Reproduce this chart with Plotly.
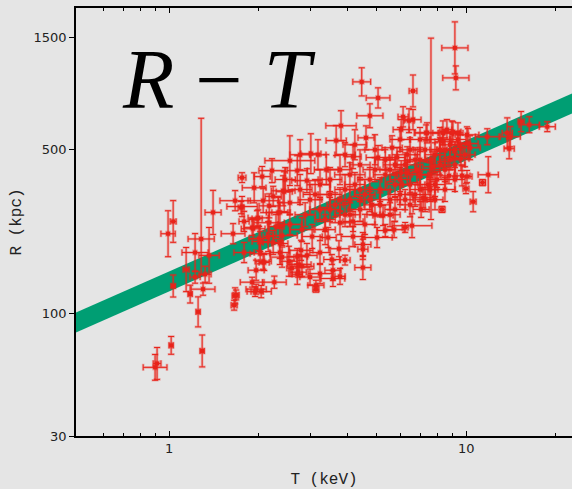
import numpy as np
import plotly.graph_objects as go

# ---- data -----------------------------------------------------------------
# temperature T (keV), radius R (kpc); errors given as half-widths in dex
T = [0.911, 0.897, 1.016, 1.032, 0.992, 1.032, 1.223, 1.363, 1.406, 1.141,
     1.223, 1.322, 1.301, 1.177, 1.252, 1.292, 1.760, 1.668, 1.747, 1.788,
     1.642, 1.668, 1.655, 2.057, 2.22, 2.70, 2.44, 2.24, 1.933, 2.073,
     2.33, 1.760, 2.172, 1.994, 1.918, 2.172, 2.29, 2.009, 2.155, 2.40,
     2.025, 2.073, 2.36, 2.40, 2.53, 2.59, 2.78, 2.74, 2.91, 2.70,
     3.22, 2.98, 3.12, 3.56, 3.56, 3.76, 4.49, 3.91, 1.903, 2.26,
     2.041, 1.681, 1.948, 3.12, 2.55, 2.76, 3.00, 3.17, 2.42, 2.91,
     3.38, 4.16, 5.05, 5.85, 6.33, 6.04, 4.45, 5.05, 4.74, 6.13,
     6.04, 3.79, 4.60, 3.65, 5.63, 9.16, 9.23, 6.62, 6.42, 7.33,
     8.61, 8.95, 9.38, 10.06, 11.77, 13.74, 14.06, 13.95, 15.3, 16.3,
     18.74, 11.86, 11.35, 10.55, 9.98, 10.06, 8.29, 7.16, 7.05, 6.57,
     6.23, 7.55, 8.75, 9.68, 9.60, 10.14, 9.02, 8.35, 7.38, 8.35,
     9.38, 6.62, 7.73, 6.83, 6.33, 7.97, 5.72, 5.34, 5.01, 4.49,
     4.49, 3.73, 2.80, 2.72, 2.70, 3.22, 3.53, 1.963, 1.963, 2.089,
     2.36, 2.24, 2.025, 1.788, 1.903, 1.978, 2.36, 2.55, 2.80, 3.03,
     3.35, 3.43, 4.16, 5.25, 3.76, 4.16, 2.98, 3.22, 3.48, 3.62,
     3.91, 4.06, 4.22, 4.39, 4.56, 4.74, 4.82, 5.13, 5.34, 5.54,
     5.76, 5.99, 6.23, 6.47, 6.73, 6.99, 7.27, 7.44, 7.85, 8.16,
     8.48, 8.82, 9.16, 9.53, 3.76, 4.06, 4.39, 4.93, 5.34, 3.22,
     3.48, 3.10, 3.35, 3.91, 4.56, 4.93, 5.76, 6.23, 6.73, 7.85,
     8.48, 5.76, 4.93, 4.22, 3.91, 2.76, 2.87, 2.55, 2.46, 5.54,
     5.99, 6.47, 6.99, 7.55, 8.16, 8.82, 9.16, 9.90, 10.3, 5.13,
     5.54, 6.47, 6.99, 4.39, 4.74, 4.06, 3.76, 3.48, 7.27, 7.85,
     8.48, 9.16, 5.99, 6.99, 8.16]

R = [61.2, 58.9, 73.1, 131, 219, 247, 182, 177, 270, 154,
     143, 147, 127, 121, 101.6, 69.2, 380, 303, 283, 247,
     219, 119, 108.5, 384, 407, 407, 331, 316, 344, 303,
     270, 286, 288, 256, 230, 244, 235, 209, 213, 215,
     180, 167, 199, 174, 167, 156, 186, 162, 177, 147,
     148, 143, 132, 141, 153, 144, 157, 169, 136, 136,
     124, 120, 124, 127, 449, 476, 481, 476, 334, 369,
     411, 467, 463, 463, 476, 399, 974, 832, 698, 691,
     609, 633, 562, 547, 510, 1360, 1013, 891, 665, 590,
     609, 590, 590, 579, 568, 590, 568, 505, 659, 639,
     627, 391, 362, 300, 341, 384, 278, 312, 278, 237,
     233, 338, 387, 387, 458, 531, 596, 590, 590, 541,
     553, 672, 423, 411, 399, 373, 228, 226, 211, 197,
     188, 189, 159, 150, 175, 182, 170, 127, 153, 165,
     182, 201, 203, 182, 233, 254, 270, 297, 228, 213,
     228, 211, 213, 262, 244, 247, 306, 278, 322, 291,
     338, 306, 355, 278, 322, 373, 291, 338, 391, 306,
     355, 322, 431, 355, 453, 391, 500, 355, 476, 431,
     500, 453, 500, 525, 411, 391, 431, 411, 453, 355,
     373, 322, 252, 264, 240, 264, 278, 306, 322, 306,
     338, 431, 500, 525, 476, 338, 264, 240, 373, 411,
     373, 500, 453, 391, 500, 525, 431, 476, 510, 291,
     264, 291, 338, 338, 306, 264, 306, 278, 306, 355,
     411, 373, 553, 553, 553]

T_err = [0.013, 0.040, 0.007, 0.007, 0.024, 0.010, 0.044, 0.034, 0.027, 0.010,
         0.017, 0.020, 0.040, 0.007, 0.007, 0.007, 0.013, 0.051, 0.010, 0.017,
         0.040, 0.010, 0.010, 0.027, 0.044, 0.034, 0.027, 0.027, 0.040, 0.051,
         0.040, 0.051, 0.034, 0.034, 0.040, 0.051, 0.027, 0.034, 0.017, 0.051,
         0.034, 0.027, 0.027, 0.040, 0.027, 0.017, 0.040, 0.040, 0.034, 0.017,
         0.040, 0.034, 0.027, 0.040, 0.027, 0.017, 0.027, 0.017, 0.040, 0.040,
         0.034, 0.010, 0.027, 0.010, 0.084, 0.034, 0.034, 0.027, 0.040, 0.051,
         0.040, 0.027, 0.040, 0.027, 0.034, 0.027, 0.030, 0.040, 0.044, 0.017,
         0.027, 0.051, 0.027, 0.034, 0.034, 0.044, 0.044, 0.013, 0.017, 0.040,
         0.017, 0.027, 0.017, 0.040, 0.040, 0.017, 0.034, 0.017, 0.010, 0.034,
         0.027, 0.034, 0.010, 0.010, 0.010, 0.017, 0.010, 0.034, 0.027, 0.067,
         0.010, 0.027, 0.027, 0.027, 0.027, 0.034, 0.027, 0.034, 0.040, 0.027,
         0.027, 0.027, 0.034, 0.051, 0.034, 0.034, 0.034, 0.027, 0.051, 0.027,
         0.017, 0.034, 0.040, 0.027, 0.034, 0.034, 0.027, 0.034, 0.027, 0.017,
         0.034, 0.034, 0.027, 0.034, 0.027, 0.017, 0.027, 0.034, 0.040, 0.034,
         0.034, 0.027, 0.040, 0.034, 0.034, 0.034, 0.040, 0.034, 0.040, 0.027,
         0.034, 0.040, 0.034, 0.040, 0.034, 0.040, 0.027, 0.034, 0.040, 0.034,
         0.027, 0.040, 0.034, 0.027, 0.034, 0.027, 0.040, 0.027, 0.034, 0.027,
         0.027, 0.034, 0.027, 0.034, 0.040, 0.051, 0.034, 0.040, 0.034, 0.034,
         0.040, 0.040, 0.034, 0.034, 0.034, 0.027, 0.034, 0.027, 0.034, 0.027,
         0.034, 0.040, 0.034, 0.040, 0.034, 0.040, 0.034, 0.040, 0.034, 0.034,
         0.034, 0.034, 0.034, 0.034, 0.034, 0.034, 0.034, 0.034, 0.034, 0.034,
         0.034, 0.034, 0.034, 0.034, 0.034, 0.034, 0.034, 0.034, 0.034, 0.034,
         0.034, 0.034, 0.034, 0.034, 0.034]

R_err = [0.068, 0.055, 0.038, 0.047, 0.098, 0.089, 0.081, 0.119, 0.094, 0.094,
         0.026, 0.034, 0.026, 0.038, 0.064, 0.068, 0.021, 0.043, 0.026, 0.043,
         0.043, 0.034, 0.021, 0.043, 0.051, 0.064, 0.085, 0.043, 0.064, 0.051,
         0.064, 0.043, 0.051, 0.034, 0.043, 0.043, 0.051, 0.051, 0.064, 0.043,
         0.043, 0.034, 0.064, 0.043, 0.064, 0.034, 0.043, 0.043, 0.051, 0.043,
         0.043, 0.034, 0.021, 0.034, 0.043, 0.034, 0.051, 0.021, 0.021, 0.026,
         0.026, 0.021, 0.021, 0.013, 0.106, 0.064, 0.085, 0.064, 0.064, 0.051,
         0.064, 0.051, 0.051, 0.043, 0.034, 0.051, 0.060, 0.043, 0.051, 0.043,
         0.043, 0.064, 0.051, 0.064, 0.051, 0.111, 0.051, 0.068, 0.051, 0.034,
         0.043, 0.051, 0.043, 0.034, 0.034, 0.064, 0.043, 0.043, 0.043, 0.034,
         0.021, 0.077, 0.013, 0.043, 0.021, 0.026, 0.013, 0.043, 0.034, 0.051,
         0.021, 0.051, 0.034, 0.043, 0.051, 0.064, 0.043, 0.051, 0.043, 0.043,
         0.034, 0.043, 0.064, 0.064, 0.051, 0.034, 0.034, 0.026, 0.043, 0.051,
         0.043, 0.034, 0.043, 0.021, 0.034, 0.051, 0.021, 0.021, 0.043, 0.034,
         0.051, 0.051, 0.043, 0.043, 0.034, 0.034, 0.043, 0.051, 0.051, 0.051,
         0.064, 0.043, 0.043, 0.043, 0.051, 0.043, 0.064, 0.051, 0.064, 0.051,
         0.064, 0.043, 0.051, 0.051, 0.064, 0.051, 0.043, 0.051, 0.064, 0.043,
         0.051, 0.043, 0.051, 0.043, 0.051, 0.043, 0.051, 0.043, 0.051, 0.043,
         0.051, 0.043, 0.034, 0.043, 0.064, 0.051, 0.064, 0.051, 0.043, 0.064,
         0.051, 0.064, 0.051, 0.051, 0.043, 0.043, 0.051, 0.043, 0.051, 0.043,
         0.051, 0.043, 0.064, 0.064, 0.051, 0.064, 0.051, 0.043, 0.051, 0.051,
         0.051, 0.051, 0.051, 0.051, 0.051, 0.051, 0.051, 0.051, 0.051, 0.051,
         0.051, 0.051, 0.051, 0.051, 0.051, 0.051, 0.051, 0.051, 0.051, 0.051,
         0.051, 0.051, 0.051, 0.051, 0.051]

# two clusters with very long, asymmetric R error bars
T_long = [1.282, 7.61]
R_long = [208, 453]
T_long_err = [0.044, 0.013]
R_long_up = [0.515, 0.519]
R_long_dn = [0.153, 0.255]

# best-fit R-T relation band (end points)
band_T = [0.45, 25.0]
band_lo = [79.4, 753]
band_hi = [96.6, 917]

x_ticks = [1, 10]
x_minor = [0.6, 0.7, 0.8, 0.9, 2, 3, 4, 5, 6, 7, 8, 9, 20]
y_ticks = [30, 100, 500, 1500]

# ---- figure ----------------------------------------------------------------
RED = "#e8231a"
HALO = "rgba(232,35,25,0.30)"
BG = "#e5e5e5"
MONO = "Liberation Mono"
SERIF = "Liberation Serif"


def dex_err(v, d):
    v = np.asarray(v, float)
    d = np.asarray(d, float)
    return v * (10 ** d - 1), v * (1 - 10 ** (-d))


T_all = list(T) + T_long
R_all = list(R) + R_long
tp, tm = dex_err(T_all, list(T_err) + T_long_err)
rp, _ = dex_err(R_all, list(R_err) + R_long_up)
_, rm = dex_err(R_all, list(R_err) + R_long_dn)

fig = go.Figure()

fig.add_trace(go.Scatter(x=band_T, y=band_lo, mode="lines",
                         line=dict(width=0, color="#009e73"),
                         hoverinfo="skip", showlegend=False))
fig.add_trace(go.Scatter(x=band_T, y=band_hi, mode="lines",
                         line=dict(width=0, color="#009e73"),
                         fill="tonexty", fillcolor="#009e73",
                         hoverinfo="skip", showlegend=False))

# translucent halo under the error bars
fig.add_trace(go.Scatter(
    x=T_all, y=R_all, mode="markers",
    marker=dict(symbol="square", size=6, color=HALO),
    error_x=dict(type="data", symmetric=False, array=tp, arrayminus=tm,
                 color=HALO, thickness=2.6, width=3.5),
    error_y=dict(type="data", symmetric=False, array=rp, arrayminus=rm,
                 color=HALO, thickness=2.6, width=3.5),
    hoverinfo="skip", showlegend=False))

fig.add_trace(go.Scatter(
    x=T_all, y=R_all, mode="markers",
    marker=dict(symbol="square", size=4, color=RED),
    error_x=dict(type="data", symmetric=False, array=tp, arrayminus=tm,
                 color=RED, thickness=1, width=3),
    error_y=dict(type="data", symmetric=False, array=rp, arrayminus=rm,
                 color=RED, thickness=1, width=3),
    showlegend=False))

fig.add_annotation(
    text="<i>R</i> − <i>T</i>", xref="paper", yref="paper",
    x=0.288, y=0.832, xanchor="center", yanchor="middle", showarrow=False,
    font=dict(family=SERIF, size=84, color="black"))

fig.update_layout(
    width=572, height=489,
    margin=dict(l=76, r=0, t=8, b=53),
    paper_bgcolor=BG, plot_bgcolor=BG,
    showlegend=False,
    font=dict(family="DejaVu Sans", size=13, color="#222"),
)

fig.update_xaxes(
    type="log", range=[np.log10(0.486), np.log10(22.7)],
    tickvals=x_ticks, ticktext=[str(v) for v in x_ticks],
    ticks="inside", ticklen=5, tickcolor="black", tickwidth=1,
    minor=dict(tickvals=x_minor, ticks="inside", ticklen=3,
               tickcolor="black", tickwidth=1),
    showline=True, linecolor="black", linewidth=1.5, mirror="allticks",
    showgrid=False, zeroline=False,
    tickfont=dict(family="DejaVu Sans", size=13, color="#222"),
    title=dict(text="T (keV)", standoff=19,
               font=dict(family=MONO, size=16, color="#222")),
)
fig.update_yaxes(
    type="log", range=[np.log10(30), np.log10(2013)],
    tickvals=y_ticks, ticktext=[str(v) for v in y_ticks],
    ticks="outside", ticklen=5, tickcolor="black", tickwidth=1,
    showline=True, linecolor="black", linewidth=1.5, mirror=False,
    showgrid=False, zeroline=False,
    tickfont=dict(family="DejaVu Sans", size=13, color="#222"),
    title=dict(text="R (kpc)", standoff=8,
               font=dict(family=MONO, size=16, color="#222")),
)

fig.write_html("out.html")
